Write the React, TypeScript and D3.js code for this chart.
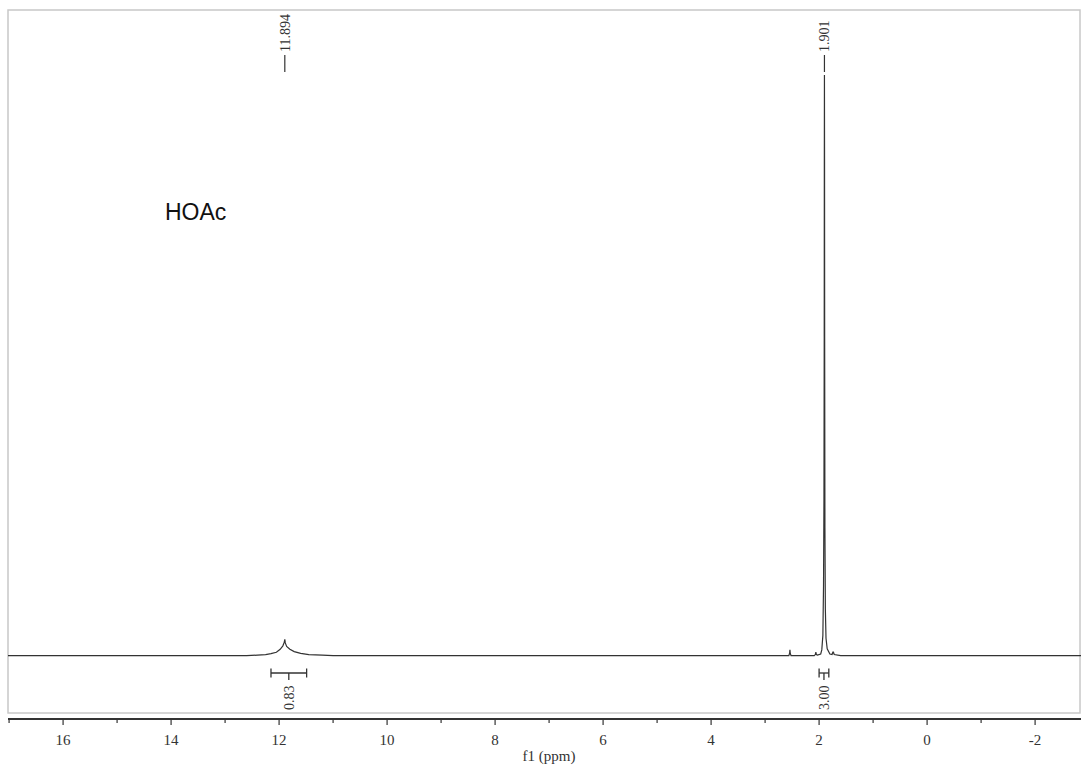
import React, { useRef, useEffect } from "react";
import * as d3 from "d3";

// spectrum points: chemical shift (ppm) and intensity (1.901 peak = 100)
const shifts = [
  17.02, 12.6, 12.4, 12.25, 12.15, 12.05, 11.98, 11.93, 11.905, 11.894, 11.885, 11.86, 11.8,
  11.72, 11.6, 11.45, 11.2, 11.0, 2.56, 2.545, 2.54, 2.535, 2.52, 2.09, 2.07, 2.06, 2.05, 2.03,
  1.97, 1.95, 1.93, 1.918, 1.91, 1.905, 1.903, 1.901, 1.899, 1.897, 1.892, 1.884, 1.872,
  1.85, 1.8, 1.76, 1.745, 1.735, 1.72, 1.6, -2.85,
];
const intensities = [
  0, 0, 0.1, 0.2, 0.35, 0.6, 1.1, 1.7, 2.3, 2.8, 2.2, 1.6, 1.1,
  0.7, 0.4, 0.2, 0.1, 0, 0, 0.5, 1.0, 0.5, 0, 0, 0.2, 0.6, 0.2, 0.1,
  0.3, 1.0, 3.5, 12, 27, 55, 85, 100, 85, 55, 22, 8, 3,
  1.2, 0.3, 0.2, 0.6, 0.6, 0.2, 0, 0,
];

// peak picking labels
const peakLabels = ["11.894", "1.901"];
const peakShifts = [11.894, 1.901];

// integrals
const integralFrom = [12.15, 2.0];
const integralTo = [11.49, 1.82];
const integralValues = ["0.83", "3.00"];

// x axis
const majorTicks = [16, 14, 12, 10, 8, 6, 4, 2, 0, -2];
const minorTicks = [17, 15, 13, 11, 9, 7, 5, 3, 1, -1];

const App = () => {
  const svgRef = useRef(null);
  const width = 1081;
  const height = 767;

  useEffect(() => {
    var svg = d3.select(svgRef.current);
    svg.selectAll("*").remove();

    var x = d3.scaleLinear().domain([17.02, -2.85]).range([8, 1081]);
    var y = d3.scaleLinear().domain([0, 100]).range([655.7, 75]);

    // frame
    svg
      .append("rect")
      .attr("x", 8)
      .attr("y", 10)
      .attr("width", 1072)
      .attr("height", 703)
      .attr("fill", "none")
      .attr("stroke", "#c8c8c8")
      .attr("stroke-width", 1.5);

    // spectrum
    var pts = shifts.map((s, i) => [s, intensities[i]]);
    var line = d3
      .line()
      .x((d) => x(d[0]))
      .y((d) => y(d[1]));
    svg
      .append("path")
      .attr("d", line(pts))
      .attr("fill", "none")
      .attr("stroke", "#333")
      .attr("stroke-width", 1.2);

    // peak labels
    peakLabels.forEach((lab, i) => {
      var px = x(peakShifts[i]);
      svg
        .append("line")
        .attr("x1", px)
        .attr("x2", px)
        .attr("y1", 55)
        .attr("y2", 72)
        .attr("stroke", "#333")
        .attr("stroke-width", 1.2);
      svg
        .append("text")
        .attr("transform", "translate(" + px + ",52) rotate(-90)")
        .attr("dy", "0.35em")
        .attr("text-anchor", "start")
        .attr("font-family", "Liberation Serif, serif")
        .style("font-size", "14px")
        .style("fill", "#333")
        .text(lab);
    });

    // integrals
    integralValues.forEach((val, i) => {
      var x0 = x(integralFrom[i]);
      var x1 = x(integralTo[i]);
      var mid = (x0 + x1) / 2;
      var g = svg.append("g").attr("stroke", "#333").attr("stroke-width", 1.3);
      g.append("line").attr("x1", x0).attr("x2", x1).attr("y1", 673).attr("y2", 673);
      g.append("line").attr("x1", x0).attr("x2", x0).attr("y1", 668.5).attr("y2", 677.5);
      g.append("line").attr("x1", x1).attr("x2", x1).attr("y1", 668.5).attr("y2", 677.5);
      g.append("line").attr("x1", mid).attr("x2", mid).attr("y1", 673).attr("y2", 680);
      svg
        .append("text")
        .attr("transform", "translate(" + mid + ",710) rotate(-90)")
        .attr("dy", "0.35em")
        .attr("text-anchor", "start")
        .attr("font-family", "Liberation Serif, serif")
        .style("font-size", "14px")
        .style("fill", "#333")
        .text(val);
    });

    // x axis
    var axis = svg.append("g").attr("transform", "translate(0,719)");
    axis
      .append("line")
      .attr("x1", 8)
      .attr("x2", 1081)
      .attr("stroke", "#333")
      .attr("stroke-width", 2);
    axis
      .selectAll(".minor")
      .data(minorTicks)
      .enter()
      .append("line")
      .attr("class", "minor")
      .attr("x1", (d) => x(d))
      .attr("x2", (d) => x(d))
      .attr("y1", 0)
      .attr("y2", 4)
      .attr("stroke", "#333")
      .attr("stroke-width", 1.2);
    axis
      .selectAll(".major")
      .data(majorTicks)
      .enter()
      .append("line")
      .attr("class", "major")
      .attr("x1", (d) => x(d))
      .attr("x2", (d) => x(d))
      .attr("y1", 0)
      .attr("y2", 6)
      .attr("stroke", "#333")
      .attr("stroke-width", 1.2);
    axis
      .selectAll(".tick-label")
      .data(majorTicks)
      .enter()
      .append("text")
      .attr("class", "tick-label")
      .attr("x", (d) => x(d))
      .attr("y", 26)
      .attr("text-anchor", "middle")
      .attr("font-family", "Liberation Serif, serif")
      .style("font-size", "15px")
      .style("fill", "#333")
      .text((d) => d);

    svg
      .append("text")
      .attr("x", 549)
      .attr("y", 761)
      .attr("text-anchor", "middle")
      .attr("font-family", "Liberation Serif, serif")
      .style("font-size", "15px")
      .style("fill", "#333")
      .text("f1 (ppm)");

    // sample name
    svg
      .append("text")
      .attr("x", 165)
      .attr("y", 220)
      .attr("font-family", "Liberation Sans, Arial, sans-serif")
      .style("font-size", "23px")
      .style("fill", "#111")
      .text("HOAc");
  }, []);

  return (
    <svg
      ref={svgRef}
      width={width}
      height={height}
      style={{ position: "absolute", left: 0, top: 0, background: "#fff" }}
    />
  );
};

export default App;
